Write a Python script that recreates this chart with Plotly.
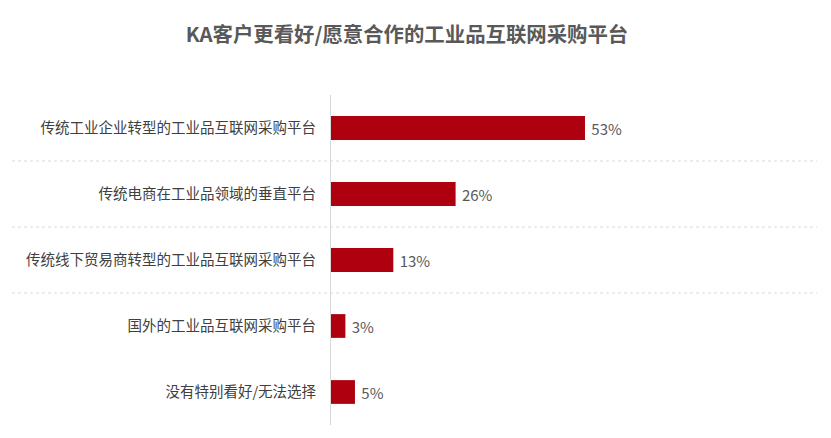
import plotly.graph_objects as go

categories = [
    '传统工业企业转型的工业品互联网采购平台',
    '传统电商在工业品领域的垂直平台',
    '传统线下贸易商转型的工业品互联网采购平台',
    '国外的工业品互联网采购平台',
    '没有特别看好/无法选择',
]
shares = [53, 26, 13, 3, 5]

bar_color = '#AE000E'
text_color = '#404040'
grid_color = '#d9d9d9'
font_family = 'Noto Sans CJK SC, Noto Sans, sans-serif'

# the page body adds an 8px offset, so the figure is sized to fit inside it
fig_w, fig_h = 823, 430

fig = go.Figure()
fig.add_trace(go.Bar(
    y=categories,
    x=shares,
    orientation='h',
    width=0.36,
    marker=dict(color=bar_color, line=dict(width=0)),
    texttemplate=' %{x}%',
    textposition='outside',
    textfont=dict(size=15, color='#595959', family=font_family),
    cliponaxis=False,
))

# dotted separators between the first categories
for pos in [0.5, 1.5, 2.5]:
    fig.add_shape(
        type='line', xref='paper', yref='y',
        x0=-0.659, x1=1.004, y0=pos, y1=pos,
        line=dict(color=grid_color, width=1, dash='dot'),
    )

fig.update_layout(
    width=fig_w, height=fig_h,
    plot_bgcolor='white', paper_bgcolor='white',
    margin=dict(l=323, r=16, t=87, b=13),
    showlegend=False,
    font=dict(family=font_family, color=text_color),
    title=dict(
        text='<b>KA客户更看好/愿意合作的工业品互联网采购平台</b>',
        x=399 / fig_w, xref='container', xanchor='center',
        y=1 - 27 / fig_h, yref='container', yanchor='middle',
        font=dict(size=20.4, color='#595959', family=font_family),
    ),
)
fig.update_xaxes(
    range=[0, 101], visible=False, showgrid=False, zeroline=False,
)
fig.update_yaxes(
    autorange='reversed', showgrid=False, zeroline=False,
    showline=True, linecolor=grid_color, linewidth=1,
    ticks='', ticklabelstandoff=11,
    tickfont=dict(size=14.5, color=text_color, family=font_family),
)

fig.write_html('out.html')
